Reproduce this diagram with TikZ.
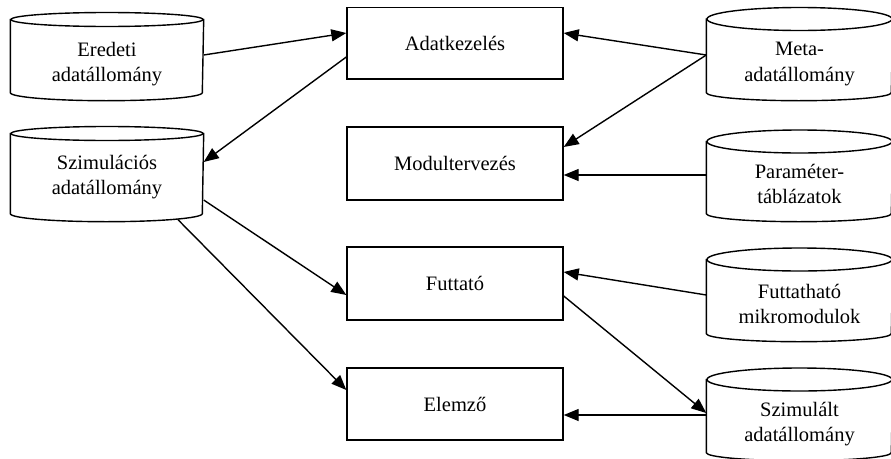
\documentclass[tikz,border=0pt]{standalone}
\usepackage{fontspec}
\setmainfont{Liberation Serif}
\usetikzlibrary{arrows.meta,calc}
\newcommand\drawcyl[7]{%
  \node[inner sep=0pt, minimum width={2*#3pt}, minimum height={(#5-#4)*1pt}] (#1) at (#2,{(#4+#5)/2}) {};
  \draw (#2,#4) ellipse [x radius=#3pt, y radius=#6pt];
  \draw (#1.north west) -- (#1.south west) arc[start angle=180,end angle=360,x radius=#3pt,y radius=#7pt] -- (#1.north east);
}
\begin{document}
\begin{tikzpicture}[x=1pt,y=-1pt,
  line width=1.4pt,
  box/.style={draw, minimum width=216pt, inner sep=0pt, font=\fontsize{20.5}{25}\selectfont},
  lbl/.style={align=center, font=\fontsize{20.5}{25.5}\selectfont, inner sep=0pt},
  arr/.style={-{Triangle[length=15pt,width=12pt]}, line width=1.4pt}]
\useasboundingbox (0,0) rectangle (891,458);
% boxes
\node[box, minimum height=71.5pt] (adat) at (455,43.25) {Adatkezelés};
\node[box, minimum height=73pt] (modul) at (455,163.5) {Modultervezés};
\node[box, minimum height=73pt] (futt) at (455,283.5) {Futtató};
\node[box, minimum height=72pt] (elem) at (455,404) {Elemző};
% cylinders
\drawcyl{ered}{107}{96}{19.5}{92}{7}{8}
\drawcyl{szim}{107}{96}{133.5}{213}{7}{8}
\drawcyl{meta}{799.5}{92.5}{19}{92}{11.5}{8}
\drawcyl{param}{799.5}{92.5}{141.5}{213}{11.5}{8}
\drawcyl{futh}{799.5}{92.5}{259.5}{333}{11.5}{8}
\drawcyl{szlt}{799.5}{92.5}{379.5}{452}{11.5}{8}
% labels
\node[lbl] (ered-t) at (107,64) {Eredeti\\adatállomány};
\node[lbl] (szim-t) at (107,177) {Szimulációs\\adatállomány};
\node[lbl] (meta-t) at (799.5,64) {Meta-\\adatállomány};
\node[lbl] (param-t) at (799.5,184) {Paraméter-\\táblázatok};
\node[lbl] (futh-t) at (799.5,304) {Futtatható\\mikromodulok};
\node[lbl] (szlt-t) at (799.5,424) {Szimulált\\adatállomány};
% arrows
\draw[arr] (ered.east |- 0,55) -- (adat.west |- 0,33);
\draw[arr] (adat.west |- 0,57) -- (szim.east |- 0,162);
\draw[arr] (meta.west |- 0,55) -- (adat.east |- 0,33);
\draw[arr] (meta.west |- 0,55) -- (modul.east |- 0,147);
\draw[arr] (param.west |- 0,175) -- (modul.east |- 0,175);
\draw[arr] (szim.east |- 0,200) -- (futt.west |- 0,295);
\draw[arr] ($(szim.south)+(71,6)$) -- (elem.west |- 0,390);
\draw[arr] (futh.west |- 0,295) -- (futt.east |- 0,272);
\draw[arr] (futt.east |- 0,296) -- (szlt.west |- 0,413);
\draw[arr] (szlt.west |- 0,415) -- (elem.east |- 0,415);
\end{tikzpicture}
\end{document}
